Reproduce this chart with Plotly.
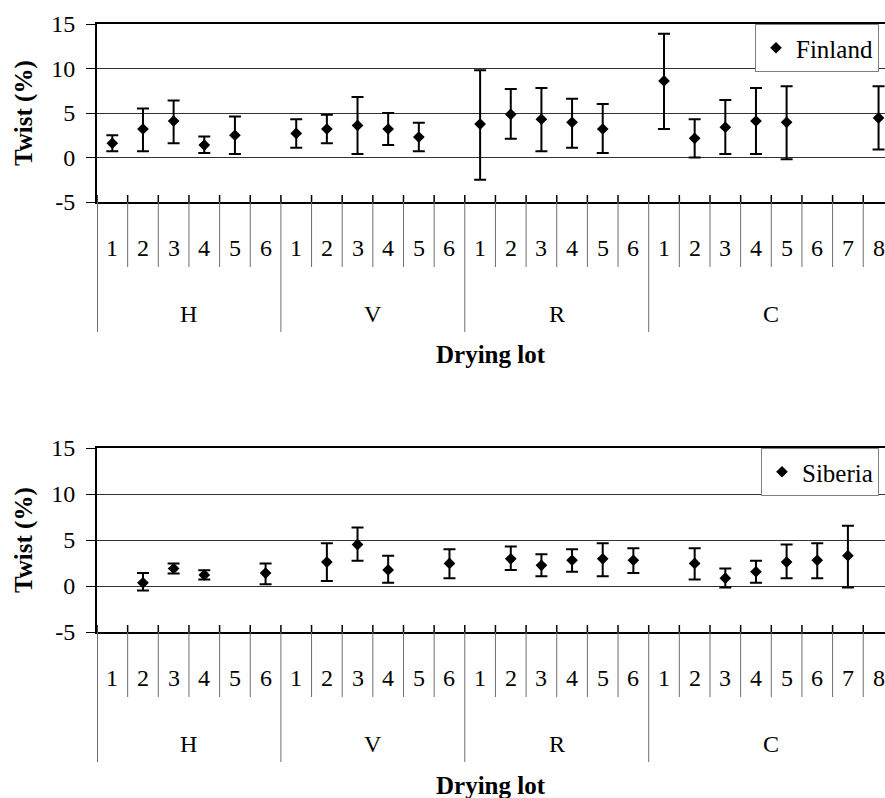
import plotly.graph_objects as go

# ---------------- data ----------------
groups = ["H", "V", "R", "C"]
lots_per_group = [6, 6, 6, 8]

# Finland: mean twist and error-bar ends (None = no data)
fin_mean = [1.6, 3.2, 4.1, 1.4, 2.5, None,
            2.7, 3.2, 3.6, 3.2, 2.3, None,
            3.75, 4.85, 4.3, 3.95, 3.2, None,
            8.6, 2.15, 3.4, 4.1, 3.95, None, None, 4.45]
fin_upper = [2.5, 5.5, 6.4, 2.35, 4.6, None,
             4.3, 4.8, 6.8, 5.0, 3.9, None,
             9.8, 7.7, 7.8, 6.6, 6.0, None,
             13.9, 4.3, 6.45, 7.8, 8.0, None, None, 8.0]
fin_lower = [0.7, 0.7, 1.6, 0.5, 0.4, None,
             1.1, 1.6, 0.4, 1.4, 0.7, None,
             -2.5, 2.1, 0.7, 1.1, 0.5, None,
             3.2, 0.0, 0.4, 0.4, -0.2, None, None, 0.9]

# Siberia
sib_mean = [None, 0.35, 1.9, 1.2, None, 1.4,
            None, 2.6, 4.5, 1.75, None, 2.45,
            None, 2.95, 2.25, 2.8, 2.95, 2.8,
            None, 2.45, 0.85, 1.55, 2.6, 2.8, 3.3, None]
sib_upper = [None, 1.4, 2.45, 1.7, None, 2.45,
             None, 4.65, 6.35, 3.3, None, 4.0,
             None, 4.3, 3.45, 4.0, 4.65, 4.1,
             None, 4.1, 1.9, 2.75, 4.5, 4.65, 6.55, None]
sib_lower = [None, -0.5, 1.35, 0.7, None, 0.2,
             None, 0.55, 2.75, 0.35, None, 0.85,
             None, 1.75, 1.05, 1.55, 1.05, 1.4,
             None, 0.7, -0.15, 0.35, 0.85, 0.85, -0.15, None]

y_ticks = [-5, 0, 5, 10, 15]

# ---------------- derived category structure ----------------
lot_labels, group_of = [], []
for g, n in zip(groups, lots_per_group):
    for k in range(1, n + 1):
        lot_labels.append(str(k))
        group_of.append(g)
xpos = list(range(len(lot_labels)))


def errs(mean, up, lo):
    plus = [(u - m) if m is not None else 0 for m, u in zip(mean, up)]
    minus = [(m - l) if m is not None else 0 for m, l in zip(mean, lo)]
    return plus, minus


FONT = "Liberation Serif"
W, H = 885, 798
ML = 97
fig = go.Figure()

panels = [
    ("Finland", fin_mean, fin_upper, fin_lower, (1 - 202 / H, 1 - 24 / H), "", "legend"),
    ("Siberia", sib_mean, sib_upper, sib_lower, (1 - 632 / H, 1 - 448 / H), "2", "legend2"),
]

shapes, annotations = [], []
layout_axes = {}
for name, mean, up, lo, dom, sfx, leg in panels:
    plus, minus = errs(mean, up, lo)
    fig.add_trace(go.Scatter(
        x=xpos, y=mean, mode="markers", name=name,
        marker=dict(symbol="diamond", size=9, color="black"),
        error_y=dict(type="data", array=plus, arrayminus=minus, symmetric=False,
                     color="black", thickness=2, width=6),
        xaxis="x" + sfx, yaxis="y" + sfx, legend=leg, cliponaxis=False,
    ))
    xa = "x" + sfx
    ya = "y" + sfx
    layout_axes["xaxis" + sfx] = dict(
        domain=[0, 1], anchor=ya, range=[-0.5, 25.21], showticklabels=False,
        ticks="", showgrid=False, zeroline=False, showline=True, automargin=False,
        linecolor="black", linewidth=2, mirror=True,
    )
    layout_axes["yaxis" + sfx] = dict(
        domain=list(dom), anchor=xa, range=[-5, 15], tickvals=y_ticks,
        ticktext=[str(v) for v in y_ticks], ticks="outside", ticklen=9,
        tickcolor="black", tickwidth=1, showline=True, linecolor="black",
        linewidth=2, showgrid=True, gridcolor="#333333", gridwidth=1,
        zeroline=False, ticklabelstandoff=6, automargin=False,
        tickfont=dict(family=FONT, size=24, color="black"),
    )
    # y-axis title (paper x is relative to the plot area)
    annotations.append(dict(x=(24 - ML) / (W - ML), y=0.5, xref="paper", yref=ya + " domain",
                            text="<b>Twist (%)</b>", textangle=-90, showarrow=False,
                            xanchor="center", yanchor="middle",
                            font=dict(family=FONT, size=25, color="black")))
    axis_paper = dom[0]  # paper fraction of the x-axis line (y = -5)
    # category boundaries (ticks) and group dividers
    start = 0
    bounds = []
    for n in lots_per_group:
        bounds.append(start - 0.5)
        start += n
    for i in range(len(lot_labels)):
        b = i - 0.5
        is_group = b in bounds
        shapes.append(dict(type="line", xref=xa, yref="paper", ysizemode="pixel",
                           yanchor=axis_paper, x0=b, x1=b, y0=7, y1=0,
                           line=dict(color="black", width=1.5)))
        shapes.append(dict(type="line", xref=xa, yref="paper", ysizemode="pixel",
                           yanchor=axis_paper, x0=b, x1=b, y0=0,
                           y1=-130 if is_group else -65,
                           line=dict(color="#6e6e6e", width=2 if b < 0 else 1)))
    # lot number labels
    for x, t in zip(xpos, lot_labels):
        annotations.append(dict(x=x, y=-5, xref=xa, yref=ya, text=t, showarrow=False,
                                yanchor="middle", yshift=-46,
                                font=dict(family=FONT, size=24, color="black")))
    # group labels
    start = 0
    for g, n in zip(groups, lots_per_group):
        annotations.append(dict(x=start + (n - 1) / 2, y=-5, xref=xa, yref=ya, text=g,
                                showarrow=False, yanchor="middle", yshift=-112,
                                font=dict(family=FONT, size=24, color="black")))
        start += n
    annotations.append(dict(x=0.5, y=0, xref=xa + " domain", yref=ya + " domain",
                            text="<b>Drying lot</b>", showarrow=False,
                            xanchor="center", yanchor="middle", yshift=-153,
                            font=dict(family=FONT, size=25, color="black")))

legend_style = dict(xanchor="right", yanchor="top", x=(879 - ML) / (W - ML), bgcolor="white",
                    bordercolor="#808080", borderwidth=1, itemwidth=30,
                    font=dict(family=FONT, size=25, color="black"))

fig.update_layout(
    width=W, height=H,
    margin=dict(l=ML, r=0, t=0, b=0, autoexpand=False),
    paper_bgcolor="white", plot_bgcolor="white",
    font=dict(family=FONT, color="black"),
    showlegend=True,
    legend=dict(y=1 - 24 / H, **legend_style),
    legend2=dict(y=1 - 448 / H, **legend_style),
    shapes=shapes, annotations=annotations,
    **layout_axes,
)

fig.write_html("out.html")
